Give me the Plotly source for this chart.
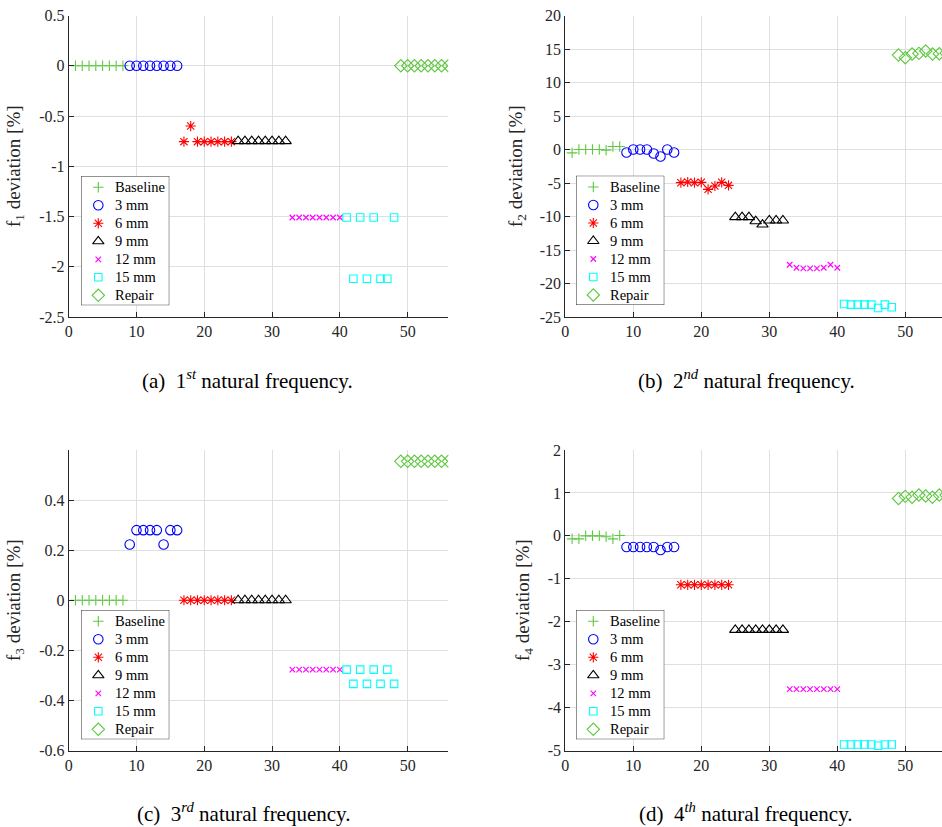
import plotly.graph_objects as go

# ---------------- data ----------------
series_names = ["Baseline", "3 mm", "6 mm", "9 mm", "12 mm", "15 mm", "Repair"]

x_baseline = [1, 2, 3, 4, 5, 6, 7, 8]
x_3mm = [9, 10, 11, 12, 13, 14, 15, 16]
x_6mm = [17, 18, 19, 20, 21, 22, 23, 24]
x_9mm = [25, 26, 27, 28, 29, 30, 31, 32]
x_12mm = [33, 34, 35, 36, 37, 38, 39, 40]
x_15mm = [41, 42, 43, 44, 45, 46, 47, 48]
x_repair = [49, 50, 51, 52, 53, 54, 55, 56]

# f1 deviation [%]
f1_baseline = [0, 0, 0, 0, 0, 0, 0, 0]
f1_3mm = [0, 0, 0, 0, 0, 0, 0, 0]
f1_6mm = [-0.755, -0.6, -0.755, -0.755, -0.755, -0.755, -0.755, -0.755]
f1_9mm = [-0.75, -0.75, -0.75, -0.75, -0.75, -0.75, -0.75, -0.75]
f1_12mm = [-1.51, -1.51, -1.51, -1.51, -1.51, -1.51, -1.51, -1.51]
f1_15mm = [-1.51, -2.12, -1.51, -2.12, -1.51, -2.12, -2.12, -1.51]
f1_repair = [0, 0, 0, 0, 0, 0, 0, 0]

# f2 deviation [%]
f2_baseline = [-0.5, 0, 0, 0, 0, -0.1, 0.45, 0.45]
f2_3mm = [-0.45, 0, 0, 0, -0.6, -1.05, 0, -0.45]
f2_6mm = [-4.95, -4.85, -4.95, -4.9, -5.95, -5.45, -4.9, -5.35]
f2_9mm = [-10.1, -10.1, -10.1, -10.7, -11.2, -10.6, -10.6, -10.6]
f2_12mm = [-17.2, -17.65, -17.75, -17.75, -17.75, -17.65, -17.2, -17.65]
f2_15mm = [-23.05, -23.15, -23.15, -23.15, -23.15, -23.65, -23.15, -23.55]
f2_repair = [14.1, 13.7, 14.25, 14.35, 14.7, 14.25, 14.3, 14.4]

# f3 deviation [%]
f3_baseline = [0, 0, 0, 0, 0, 0, 0, 0]
f3_3mm = [0.2225, 0.28, 0.28, 0.28, 0.28, 0.2225, 0.28, 0.28]
f3_6mm = [0, 0, 0, 0, 0, 0, 0, 0]
f3_9mm = [0, 0, 0, 0, 0, 0, 0, 0]
f3_12mm = [-0.277, -0.277, -0.277, -0.277, -0.277, -0.277, -0.277, -0.277]
f3_15mm = [-0.277, -0.334, -0.277, -0.334, -0.277, -0.334, -0.277, -0.334]
f3_repair = [0.555, 0.555, 0.555, 0.555, 0.555, 0.555, 0.555, 0.555]

# f4 deviation [%]
f4_baseline = [-0.07, -0.07, 0, 0, 0, -0.02, -0.07, 0.01]
f4_3mm = [-0.26, -0.26, -0.26, -0.26, -0.26, -0.33, -0.26, -0.26]
f4_6mm = [-1.14, -1.14, -1.14, -1.14, -1.14, -1.14, -1.14, -1.14]
f4_9mm = [-2.19, -2.19, -2.19, -2.19, -2.19, -2.19, -2.19, -2.19]
f4_12mm = [-3.57, -3.57, -3.57, -3.57, -3.57, -3.57, -3.57, -3.57]
f4_15mm = [-4.86, -4.86, -4.86, -4.86, -4.86, -4.89, -4.86, -4.86]
f4_repair = [0.87, 0.92, 0.9, 0.95, 0.93, 0.9, 0.95, 0.95]

x_ticks = [0, 10, 20, 30, 40, 50]
y1_ticks = [0.5, 0, -0.5, -1, -1.5, -2, -2.5]
y1_labels = ["0.5", "0", "-0.5", "-1", "-1.5", "-2", "-2.5"]
y2_ticks = [20, 15, 10, 5, 0, -5, -10, -15, -20, -25]
y2_labels = ["20", "15", "10", "5", "0", "-5", "-10", "-15", "-20", "-25"]
y3_ticks = [0.4, 0.2, 0, -0.2, -0.4, -0.6]
y3_labels = ["0.4", "0.2", "0", "-0.2", "-0.4", "-0.6"]
y4_ticks = [2, 1, 0, -1, -2, -3, -4, -5]
y4_labels = ["2", "1", "0", "-1", "-2", "-3", "-4", "-5"]

captions = [
    "(a)&nbsp; 1<sup><i>st</i></sup> natural frequency.",
    "(b)&nbsp; 2<sup><i>nd</i></sup> natural frequency.",
    "(c)&nbsp; 3<sup><i>rd</i></sup> natural frequency.",
    "(d)&nbsp; 4<sup><i>th</i></sup> natural frequency.",
]
y_titles = ["f<sub>1</sub> deviation [%]", "f<sub>2</sub> deviation [%]",
            "f<sub>3</sub> deviation [%]", "f<sub>4</sub> deviation [%]"]

# ---------------- styles ----------------
GREEN = "rgb(95,200,65)"
styles = [
    dict(symbol="cross-thin-open", color=GREEN, size=7.5),
    dict(symbol="circle-open", color="rgb(0,0,255)", size=9.5),
    dict(symbol="asterisk-open", color="rgb(255,0,0)", size=8.5),
    dict(symbol="triangle-up-open", color="rgb(0,0,0)", size=10),
    dict(symbol="x-thin-open", color="rgb(255,0,255)", size=5.5),
    dict(symbol="square-open", color="rgb(0,255,255)", size=7.5),
    dict(symbol="diamond-open", color=GREEN, size=9.5),
]

xs = [x_baseline, x_3mm, x_6mm, x_9mm, x_12mm, x_15mm, x_repair]
panels = [
    [f1_baseline, f1_3mm, f1_6mm, f1_9mm, f1_12mm, f1_15mm, f1_repair],
    [f2_baseline, f2_3mm, f2_6mm, f2_9mm, f2_12mm, f2_15mm, f2_repair],
    [f3_baseline, f3_3mm, f3_6mm, f3_9mm, f3_12mm, f3_15mm, f3_repair],
    [f4_baseline, f4_3mm, f4_6mm, f4_9mm, f4_12mm, f4_15mm, f4_repair],
]

W, H = 942, 827
FONT = "'Liberation Serif', 'Times New Roman', Times, serif"
AX_COL = "rgb(38,38,38)"
GRID_COL = "rgb(223,223,223)"

# legend box geometry (pixels)
LEG_W, LEG_H = 88.3, 129.3
LEG_MARK_X, LEG_TEXT_X = 17.3, 32.0
LEG_ROW0, LEG_ROW_STEP = 11.3, 18.0
legend_boxes = [(81.0, 176.0), (576.0, 175.7), (81.0, 610.0), (576.0, 610.0)]

fig = go.Figure()

def ax_id(n):
    return "" if n == 1 else str(n)

# data traces
for p, ys in enumerate(panels):
    for s in range(7):
        st = styles[s]
        fig.add_trace(go.Scatter(
            x=xs[s], y=ys[s], mode="markers", name=series_names[s],
            marker=dict(symbol=st["symbol"], size=st["size"], color=st["color"],
                        line=dict(color=st["color"], width=1.1)),
            xaxis="x" + ax_id(p + 1), yaxis="y" + ax_id(p + 1),
            showlegend=False, cliponaxis=True,
        ))

# legend marker samples (on overlay axes 5..8)
for p in range(4):
    n = p + 5
    for s in range(7):
        st = styles[s]
        fig.add_trace(go.Scatter(
            x=[LEG_MARK_X], y=[LEG_ROW0 + s * LEG_ROW_STEP], mode="markers",
            marker=dict(symbol=st["symbol"], size=st["size"], color=st["color"],
                        line=dict(color=st["color"], width=1.1)),
            xaxis=f"x{n}", yaxis=f"y{n}", showlegend=False, hoverinfo="skip",
            cliponaxis=False,
        ))

# domains (pixel-derived)
left_x = [68.7 / W, 448.3 / W]
right_x = [565.3 / W, 1.0]
top_y = [1 - 317.0 / H, 1 - 15.5 / H]
bot_y = [1 - 750.5 / H, 1 - 450.0 / H]

x_domains = [left_x, right_x, left_x, right_x]
y_domains = [top_y, top_y, bot_y, bot_y]
x_ranges = [[0, 56], [0, (W - 565.3) / 6.8], [0, 56], [0, (W - 565.3) / 6.8]]
y_ranges = [[-2.5, 0.5], [-25, 20], [-0.6, 0.6], [-5, 2]]
y_tickvals = [y1_ticks, y2_ticks, y3_ticks, y4_ticks]
y_ticktext = [y1_labels, y2_labels, y3_labels, y4_labels]
y_standoff = [13, 12, 13, 13]

layout = dict(
    width=W, height=H,
    margin=dict(l=0, r=0, t=0, b=0, autoexpand=False),
    paper_bgcolor="white", plot_bgcolor="white",
    font=dict(family=FONT, size=16, color=AX_COL),
    showlegend=False,
)

for p in range(4):
    i = ax_id(p + 1)
    layout["xaxis" + i] = dict(
        domain=x_domains[p], range=x_ranges[p], anchor="y" + i,
        tickvals=x_ticks, ticktext=[str(v) for v in x_ticks],
        showgrid=True, gridcolor=GRID_COL, gridwidth=1, zeroline=False,
        showline=True, linecolor=AX_COL, linewidth=1,
        ticks="inside", ticklen=5, tickcolor=AX_COL,
        tickfont=dict(family=FONT, size=16, color=AX_COL),
        automargin=False, fixedrange=True,
    )
    layout["yaxis" + i] = dict(
        domain=y_domains[p], range=y_ranges[p], anchor="x" + i,
        tickvals=y_tickvals[p], ticktext=y_ticktext[p],
        showgrid=True, gridcolor=GRID_COL, gridwidth=1, zeroline=False,
        showline=True, linecolor=AX_COL, linewidth=1,
        ticks="inside", ticklen=5, tickcolor=AX_COL,
        tickfont=dict(family=FONT, size=16, color=AX_COL),
        title=dict(text=y_titles[p], font=dict(family=FONT, size=19, color=AX_COL),
                   standoff=y_standoff[p]),
        automargin=False, fixedrange=True,
    )

shapes = []
annotations = []
for p in range(4):
    n = p + 5
    lx, ty = legend_boxes[p]
    layout[f"xaxis{n}"] = dict(
        domain=[lx / W, (lx + LEG_W) / W], range=[0, LEG_W], anchor=f"y{n}",
        visible=False, fixedrange=True, automargin=False,
    )
    layout[f"yaxis{n}"] = dict(
        domain=[1 - (ty + LEG_H) / H, 1 - ty / H], range=[LEG_H, 0], anchor=f"x{n}",
        visible=False, fixedrange=True, automargin=False,
    )
    shapes.append(dict(
        type="rect", xref=f"x{n}", yref=f"y{n}", x0=0, x1=LEG_W, y0=0, y1=LEG_H,
        fillcolor="white", line=dict(color=AX_COL, width=1), layer="below",
    ))
    for s in range(7):
        annotations.append(dict(
            text=series_names[s], xref=f"x{n}", yref=f"y{n}",
            x=LEG_TEXT_X, y=LEG_ROW0 + s * LEG_ROW_STEP,
            xanchor="left", yanchor="middle", showarrow=False,
            font=dict(family=FONT, size=14.5, color="rgb(0,0,0)"),
        ))

# caption boxes: bottom edge position (pixels from top)
caption_pos = [(247 / W, 1 - 394 / H), (746 / W, 1 - 394 / H),
               (243 / W, 0.0), (746 / W, 0.0)]
for p in range(4):
    annotations.append(dict(
        text=captions[p], x=caption_pos[p][0], y=caption_pos[p][1],
        xref="paper", yref="paper", xanchor="center", yanchor="bottom",
        showarrow=False, borderpad=0,
        font=dict(family=FONT, size=21, color="rgb(0,0,0)"),
    ))

layout["shapes"] = shapes
layout["annotations"] = annotations

fig.update_layout(**layout)
fig.write_html("out.html")
